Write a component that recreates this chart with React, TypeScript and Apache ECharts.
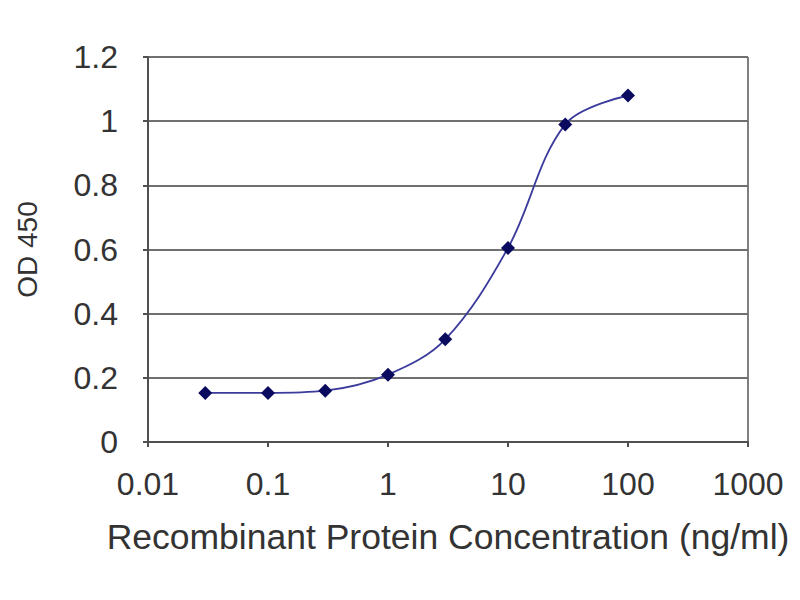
import { useEffect, useRef } from "react";
import * as echarts from "echarts";

// concentration in ng/ml and measured OD 450
const concentrations = [0.03, 0.1, 0.3, 1, 3, 10, 30, 100];
const odValues = [0.153, 0.153, 0.16, 0.21, 0.32, 0.605, 0.99, 1.08];
const xTickLabels = ["0.01", "0.1", "1", "10", "100", "1000"];
const yTickLabels = ["0", "0.2", "0.4", "0.6", "0.8", "1", "1.2"];

const FONT = "Liberation Sans, Arial, sans-serif";
const TEXT = "#333333";

export default function App() {
  const chartRef = useRef<HTMLDivElement>(null);

  useEffect(() => {
    if (!chartRef.current) return;
    document.body.style.margin = "0";
    const chart = echarts.init(chartRef.current, null, { renderer: "svg" });

    const option: echarts.EChartsOption = {
      animation: false,
      backgroundColor: "#ffffff",
      grid: { left: 148, right: 52, top: 57, bottom: 158 },
      xAxis: {
        type: "log",
        logBase: 10,
        min: 0.01,
        max: 1000,
        name: "Recombinant Protein Concentration (ng/ml)",
        nameLocation: "middle",
        nameGap: 77,
        nameTextStyle: { fontFamily: FONT, fontSize: 35.5, color: TEXT },
        axisLine: { lineStyle: { color: "#505050", width: 2 } },
        axisTick: { show: true, length: 5, lineStyle: { color: "#505050", width: 2 } },
        minorTick: { show: false },
        splitLine: { show: false },
        axisLabel: {
          fontFamily: FONT,
          fontSize: 32,
          color: TEXT,
          margin: 26,
          formatter: (v: number) => xTickLabels[Math.round(Math.log10(v)) + 2] ?? "",
        },
      },
      yAxis: {
        type: "value",
        min: 0,
        max: 1.2,
        interval: 0.2,
        name: "OD 450",
        nameLocation: "middle",
        nameRotate: 90,
        nameGap: 107,
        nameTextStyle: { fontFamily: FONT, fontSize: 28, color: TEXT },
        axisLine: { show: true, lineStyle: { color: "#505050", width: 2 } },
        axisTick: { show: true, length: 5, lineStyle: { color: "#505050", width: 2 } },
        splitLine: { show: true, lineStyle: { color: "#707070", width: 2 } },
        axisLabel: {
          fontFamily: FONT,
          fontSize: 32,
          color: TEXT,
          margin: 30,
          formatter: (v: number) => yTickLabels[Math.round(v / 0.2)] ?? "",
        },
      },
      graphic: [
        {
          type: "line",
          shape: { x1: 748, y1: 57, x2: 748, y2: 442 },
          style: { stroke: "#808080", lineWidth: 2 },
        },
      ],
      series: [
        {
          type: "line",
          data: concentrations.map((c, i) => [c, odValues[i]]),
          smooth: 0.35,
          symbol: "diamond",
          symbolSize: 14,
          itemStyle: { color: "#0a0a5e" },
          lineStyle: { color: "#3b3b9c", width: 1.8 },
        },
      ],
    };

    chart.setOption(option);
    return () => {
      chart.dispose();
    };
  }, []);

  return <div ref={chartRef} style={{ width: 800, height: 600 }} />;
}
